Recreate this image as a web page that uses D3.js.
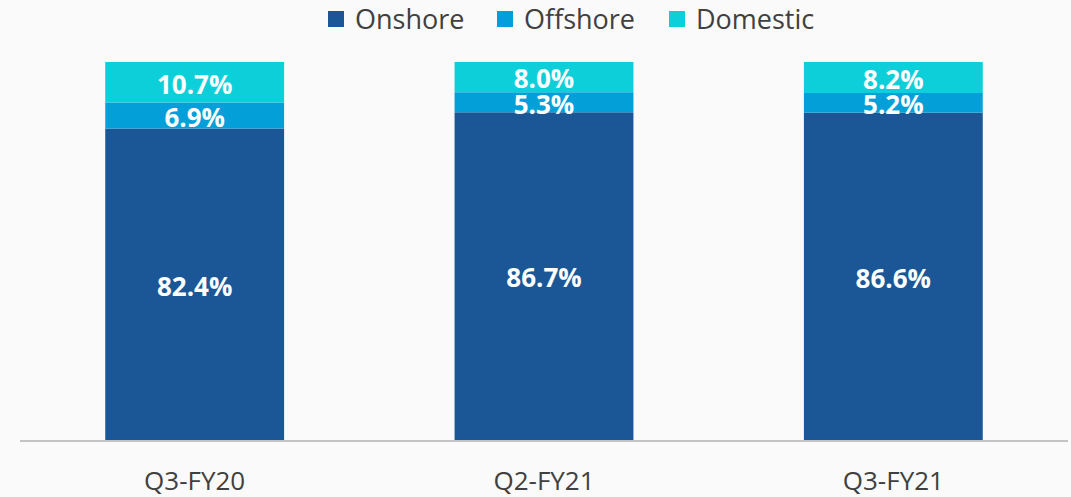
<!DOCTYPE html>
<html>
<head>
<meta charset="utf-8">
<script src="https://cdn.jsdelivr.net/npm/d3@7"></script>
<style>
  html, body { margin: 0; padding: 0; background: #fafafa; }
  svg { display: block; font-family: "Open Sans", sans-serif; }
</style>
</head>
<body>
<svg width="1071" height="497"></svg>
<script>
const quarters = ["Q3-FY20", "Q2-FY21", "Q3-FY21"];
const seriesNames = ["Onshore", "Offshore", "Domestic"];
const onshore = [82.4, 86.7, 86.6];
const offshore = [6.9, 5.3, 5.2];
const domestic = [10.7, 8.0, 8.2];
const seriesColors = ["#1b5796", "#039fd9", "#0dcfd9"];

const svg = d3.select("svg"),
    width = +svg.attr("width"),
    height = +svg.attr("height");

const rows = quarters.map((q, i) => ({
    quarter: q, Onshore: onshore[i], Offshore: offshore[i], Domestic: domestic[i]
}));

const stack = d3.stack().keys(seriesNames);
const layers = stack(rows);

const x = d3.scaleBand()
    .domain(quarters)
    .range([20, 1068])
    .paddingInner(0.488)
    .paddingOuter(0.244);

const y = d3.scaleLinear()
    .domain([0, 100])
    .range([440, 62]);

const color = d3.scaleOrdinal().domain(seriesNames).range(seriesColors);

// bars
const layer = svg.append("g")
    .selectAll("g")
    .data(layers)
    .enter().append("g")
    .attr("fill", d => color(d.key));

layer.selectAll("rect")
    .data(d => d)
    .enter().append("rect")
    .attr("x", d => x(d.data.quarter))
    .attr("y", d => y(d[1]))
    .attr("width", x.bandwidth())
    .attr("height", d => y(d[0]) - y(d[1]));

// value labels
layer.selectAll("text")
    .data(d => d)
    .enter().append("text")
    .attr("x", d => x(d.data.quarter) + x.bandwidth() / 2)
    .attr("y", d => (y(d[0]) + y(d[1])) / 2 + 2)
    .attr("dy", "0.36em")
    .attr("text-anchor", "middle")
    .attr("fill", "#fff")
    .attr("font-weight", "bold")
    .attr("font-size", 26)
    .text(d => (d[1] - d[0]).toFixed(1) + "%");

// x axis
const xAxis = svg.append("g")
    .attr("transform", "translate(0,441)")
    .call(d3.axisBottom(x).tickSize(0).tickPadding(31));
xAxis.select(".domain").attr("stroke", "#b0b0b0").attr("stroke-width", 1.5)
    .attr("d", "M20,0H1068");
xAxis.selectAll("text")
    .attr("font-family", "Open Sans, sans-serif")
    .attr("font-size", 26)
    .attr("fill", "#404040");

// legend
const legendX = [328, 497, 669];
const legend = svg.append("g")
    .selectAll("g")
    .data(seriesNames)
    .enter().append("g")
    .attr("transform", (d, i) => `translate(${legendX[i]},11)`);

legend.append("rect")
    .attr("width", 16)
    .attr("height", 16)
    .attr("fill", d => color(d));

legend.append("text")
    .attr("x", 27)
    .attr("y", 8)
    .attr("dy", "0.36em")
    .attr("font-size", 27)
    .attr("fill", "#404040")
    .text(d => d);
</script>
</body>
</html>
